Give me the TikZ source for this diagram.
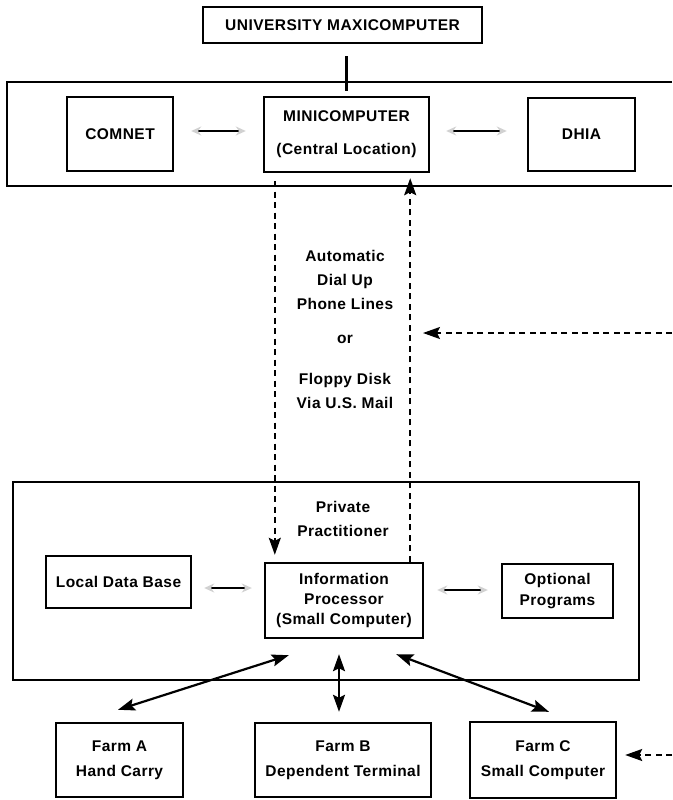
\documentclass[tikz,border=0pt]{standalone}
\usepackage{fontspec}
\setmainfont{Liberation Sans}[LetterSpace=3]
\usetikzlibrary{arrows.meta}
\tikzset{
  unit box/.style={
    draw,
    line width=2.4pt,
    align=center,
    inner sep=0pt
  },
  caption/.style={
    align=center
  },
  group frame/.style={
    line width=2.4pt
  },
  data link/.style={
    line width=2.2pt,
    {Stealth[length=17pt,width=12pt,inset=3pt]}-{Stealth[length=17pt,width=12pt,inset=3pt]}
  },
  faint link/.style={
    line width=2.2pt,
    {Stealth[length=10pt,width=9pt,color=black!18]}-{Stealth[length=10pt,width=9pt,color=black!18]}
  },
  mail link/.style={
    line width=2pt,
    dash pattern=on 6pt off 4.5pt,
    -{Stealth[length=17pt,width=12pt,inset=3pt]}
  }
}

\begin{document}
\begin{tikzpicture}[x=1pt,y=-1pt,font=\fontsize{15.5}{24}\selectfont\bfseries]
  \useasboundingbox (0,0) rectangle (672,800);

  % ---------- central location ----------
  \node[unit box, minimum width=279pt, minimum height=36pt]
    (univ) at (342.5,25) {UNIVERSITY MAXICOMPUTER};

  \draw[group frame] (672,82) -- (7,82) -- (7,186) -- (672,186);

  \node[unit box, minimum width=106pt, minimum height=74pt]
    (comnet) at (120,134) {COMNET};
  \node[unit box, minimum width=165pt, minimum height=75pt]
    (mini) at (346.5,134.5) {MINICOMPUTER\\[9pt](Central Location)};
  \node[unit box, minimum width=107pt, minimum height=73pt]
    (dhia) at (581.5,134.5) {DHIA};

  \draw[line width=2.2pt, shorten <=12pt, shorten >=5pt]
    (univ.south -| mini.north) -- (mini.north);
  \draw[faint link, shorten <=17pt, shorten >=17pt]
    ([yshift=3pt]comnet.east) -- ([yshift=3.5pt]mini.west);
  \draw[faint link, shorten <=16pt, shorten >=20pt]
    ([yshift=3.5pt]mini.east) -- ([yshift=3.5pt]dhia.west);

  % ---------- private practitioner ----------
  \draw[group frame] (13,482) rectangle (639,680);

  \node[caption] (practitioner) at (343,519) {Private\\Practitioner};

  \node[unit box, minimum width=145pt, minimum height=52pt]
    (local) at (118.5,582) {Local Data Base};
  \node[unit box, minimum width=158pt, minimum height=75pt]
    (info) at (344,600.5)
    {Information\\[-4pt]Processor\\[-4pt](Small Computer)};
  \node[unit box, minimum width=111pt, minimum height=54pt]
    (optional) at (557.5,591) {Optional\\[-3pt]Programs};

  \draw[faint link, shorten <=12pt, shorten >=12pt]
    ([yshift=-6pt]local.east) -- ([yshift=12.5pt]info.west);
  \draw[faint link, shorten <=13pt, shorten >=13pt]
    ([yshift=10.5pt]info.east) -- ([yshift=1pt]optional.west);

  % ---------- phone lines / mail ----------
  \draw[mail link, shorten <=8pt, shorten >=7pt]
    ([xshift=12pt]mini.south west) -- ([xshift=11pt]info.north west);
  \draw[mail link, shorten >=5pt]
    ([xshift=-14pt]info.north east) -- ([xshift=-20pt]mini.south east);

  \node[caption] (medium) at (345,329)
    {Automatic\\Dial Up\\Phone Lines\\[10pt]or\\[17pt]Floppy Disk\\Via U.S. Mail};

  \coordinate (mailIn) at (672,333);
  \coordinate (mailEnd) at (423,333);
  \draw[mail link] (mailIn) -- (mailEnd);

  % ---------- farms ----------
  \node[unit box, minimum width=127pt, minimum height=74pt]
    (farmA) at (119.5,760) {Farm A\\[1pt]Hand Carry};
  \node[unit box, minimum width=176pt, minimum height=74pt]
    (farmB) at (343,760) {Farm B\\[1pt]Dependent Terminal};
  \node[unit box, minimum width=146pt, minimum height=76pt]
    (farmC) at (543,760) {Farm C\\[1pt]Small Computer};

  \draw[data link]
    ([xshift=25pt,yshift=-16pt]info.south west) -- ([xshift=-1.5pt,yshift=12pt]farmA.north);
  \draw[data link]
    ([xshift=-5pt,yshift=-15pt]info.south) -- ([xshift=-4pt,yshift=10pt]farmB.north);
  \draw[data link]
    ([xshift=-28pt,yshift=-15pt]info.south east) -- ([xshift=6pt,yshift=9pt]farmC.north);

  \coordinate (farmIn) at (672,755);
  \draw[mail link] (farmIn) -- ([xshift=8pt,yshift=5pt]farmC.east);
\end{tikzpicture}
\end{document}
